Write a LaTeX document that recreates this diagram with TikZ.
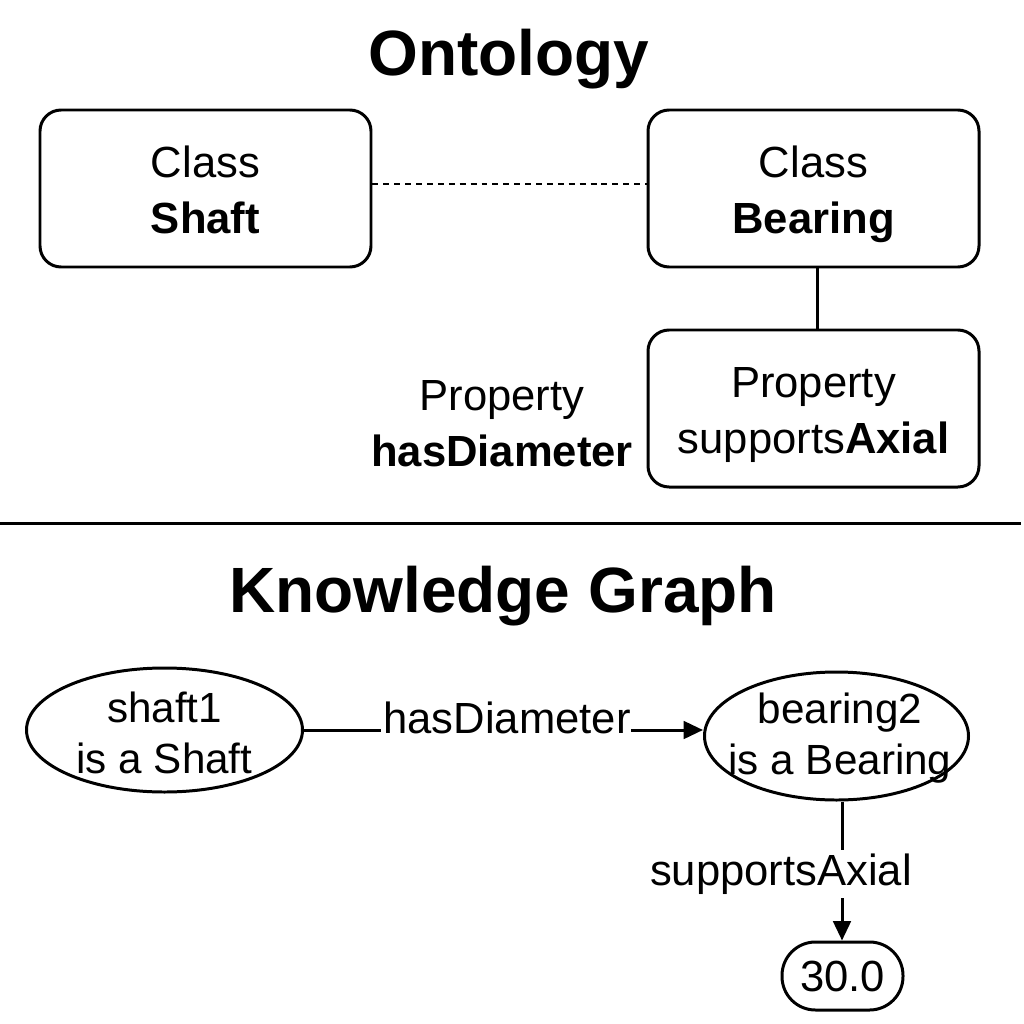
\documentclass[tikz,border=0pt]{standalone}
\usepackage{fontspec}
\setmainfont{Liberation Sans}
\usetikzlibrary{arrows.meta,shapes.geometric}
\begin{document}
\begin{tikzpicture}[x=0.01cm,y=-0.01cm,
  lw/.style={line width=0.85pt},
  classbox/.style={lw,draw,rounded corners=6pt,minimum width=331*0.01cm,minimum height=157*0.01cm},
  boxtext/.style={align=center,font=\fontsize{12.4}{16}\selectfont,inner sep=0pt},
  ell/.style={lw,draw,ellipse,inner sep=0pt},
  lbl/.style={font=\fontsize{12.4}{15}\selectfont,inner sep=1pt,align=center},
  elltext/.style={font=\fontsize{12}{14.6}\selectfont,inner sep=1pt,align=center},
  ttl/.style={font=\fontsize{18.2}{22}\selectfont\bfseries},
  arr/.style={lw,-{Triangle[length=5.5pt,width=5pt]}}]
\useasboundingbox (0,0) rectangle (1024,1024);
% titles
\node[ttl] (t1) at (509,59) {Ontology};
\node[ttl] (t2) at (503,596) {Knowledge Graph};
% ontology boxes
\node[classbox] (shaft) at (205.5,188.5) {};
\node[boxtext] (shaftt) at (205.5,194) {Class\strut\\\textbf{Shaft}\strut};
\node[classbox] (bearing) at (813.5,188.5) {};
\node[boxtext] (bearingt) at (813.5,194) {Class\strut\\\textbf{Bearing}\strut};
\node[classbox] (prop) at (813.5,408.5) {};
\node[boxtext] (propt) at (813.5,414.5) {Property\strut\\supports\textbf{Axial}\strut};
\node[boxtext] (hasd) at (502,427) {Property\strut\\\textbf{hasDiameter}\strut};
\draw[line width=0.75pt,dash pattern=on 1.7pt off 1.4pt] (shaft.east |- 0,184) -- (bearing.west |- 0,184);
\draw[lw] (bearing.south -| 817,0) -- (prop.north -| 817,0);
% separator
\coordinate (s1) at (0,523);
\coordinate (s2) at (1021,523);
\draw[lw] (s1) -- (s2);
% knowledge graph
\node[ell,minimum width=276*0.01cm,minimum height=124*0.01cm] (e1) at (164.5,730) {};
\node[elltext] (e1t) at (164.5,733) {shaft1\\is a Shaft};
\node[ell,minimum width=264*0.01cm,minimum height=128*0.01cm] (e2) at (836.5,736) {};
\node[elltext] (e2t) at (840,738) {bearing2\\is a Bearing};
\node[lbl] (l1) at (507,718) {hasDiameter};
\node[lbl] (l2) at (781,874) {supportsAxial};
\node[lw,draw,rounded corners=9.5pt,minimum width=121*0.01cm,minimum height=68*0.01cm,font=\fontsize{12.4}{15}\selectfont] (v) at (842.5,976) {30.0};
\coordinate (a1) at (381,730);
\coordinate (a2) at (631,730);
\coordinate (b1) at (842,850);
\coordinate (b2) at (842,898);
\draw[lw] (e1.east |- a1) -- (a1);
\draw[arr] (a2) -- (e2.west |- a2);
\draw[lw] (e2.south -| b1) -- (b1);
\draw[arr] (b2) -- (v.north -| b2);
\end{tikzpicture}
\end{document}
